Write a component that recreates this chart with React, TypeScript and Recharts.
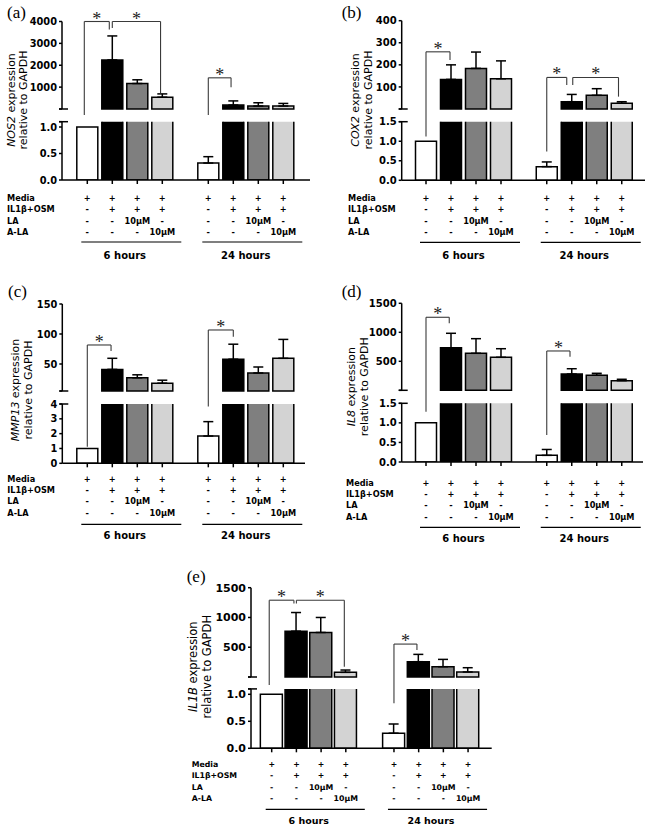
import React from 'react';
import { BarChart, Bar, XAxis, YAxis, Cell, ErrorBar, ReferenceLine, ReferenceDot } from 'recharts';

const SANS = 'DejaVu Sans';
const SERIF = 'Liberation Serif';

// treatment table under each bar (same for both time points)
const treatments = ['Media', 'IL1β+OSM', 'LA', 'A-LA'];
const mediaRow = ['+', '+', '+', '+'];
const il1bOsmRow = ['-', '+', '+', '+'];
const laRow = ['-', '-', '10μM', '-'];
const alaRow = ['-', '-', '-', '10μM'];
const timeGroups = ['6 hours', '24 hours'];

const barFills = ['#ffffff', '#000000', '#7f7f7f', '#d3d3d3'];

// mean and SD: 4 bars at 6 h, then 4 bars at 24 h (0 = no error bar)
const nos2Mean = [1, 2245, 1165, 540, 0.32, 180, 135, 135];
const nos2Sd = [0, 1095, 170, 150, 0.12, 190, 150, 120];
const cox2Mean = [1, 134, 184, 137, 0.35, 33, 62, 26];
const cox2Sd = [0, 66, 74, 81, 0.12, 33, 30, 7];
const mmp13Mean = [1, 41, 27, 18, 1.84, 58, 35, 59.5];
const mmp13Sd = [0, 18.5, 5, 5, 0.97, 25, 10, 31.5];
const il8Mean = [1, 734, 638, 569, 0.17, 281, 259, 166];
const il8Sd = [0, 249, 252, 148, 0.15, 91, 34, 24];
const il1bMean = [1, 770, 748, 78, 0.28, 257, 173, 84];
const il1bSd = [0, 313, 252, 39, 0.17, 123, 123, 72];

// broken y axes: upper and lower segments
const nos2UpperTicks = [0, 1000, 2000, 3000, 4000];
const nos2LowerTicks = [0, 0.5, 1.0, 1.1];
const cox2UpperTicks = [0, 100, 200, 300, 400];
const cox2LowerTicks = [0, 0.5, 1.0, 1.5];
const mmp13UpperTicks = [5, 50, 100, 150];
const mmp13LowerTicks = [0, 1, 2, 3, 4];
const il8UpperTicks = [0, 500, 1000, 1500];
const il8LowerTicks = [0, 0.5, 1.0, 1.5];
const il1bUpperTicks = [0, 500, 1000, 1500];
const il1bLowerTicks = [0, 0.5, 1.0, 1.1];

// significance brackets (bar a -> bar b), heights in upper-axis units
type Bracket = { a: number; b: number; top: number; aEnd: number; bEnd: number; aOff?: number; bOff?: number };
const nos2Brackets: Bracket[] = [
  { a: 0, b: 1, top: 4000, aEnd: -270, bEnd: 3640, aOff: -0.12, bOff: -0.12 },
  { a: 1, b: 3, top: 4000, aEnd: 3700, bEnd: 720, bOff: -0.07 },
  { a: 4, b: 5, top: 1425, aEnd: -270, bEnd: 990, bOff: -0.09 },
];
const cox2Brackets: Bracket[] = [
  { a: 0, b: 1, top: 259, aEnd: -125, bEnd: 222, bOff: -0.04 },
  { a: 4, b: 5, top: 143, aEnd: -193, bEnd: 109, bOff: -0.2 },
  { a: 5, b: 7, top: 143, aEnd: 109, bEnd: 56, aOff: 0.04, bOff: -0.13 },
];
const mmp13Brackets: Bracket[] = [
  { a: 0, b: 1, top: 81.7, aEnd: -88, bEnd: 71.7, bOff: -0.05 },
  { a: 4, b: 5, top: 106.7, aEnd: -21, bEnd: 95.5 },
];
const il8Brackets: Bracket[] = [
  { a: 0, b: 1, top: 1259, aEnd: -369, bEnd: 1155, bOff: -0.07 },
  { a: 4, b: 5, top: 678, aEnd: -771, bEnd: 579, bOff: -0.07 },
];
const il1bBrackets: Bracket[] = [
  { a: 0, b: 1, top: 1290, aEnd: -134, bEnd: 1234, aOff: -0.1, bOff: -0.1 },
  { a: 1, b: 3, top: 1290, aEnd: 1234, bEnd: 173, bOff: -0.06 },
  { a: 4, b: 5, top: 553, aEnd: -440, bEnd: 452, bOff: -0.07 },
];

type Panel = {
  letter: string; gene: string; mean: number[]; sd: number[]; brackets: Bracket[];
  upperTicks: number[]; lowerTicks: number[]; lowerTopLabel: boolean; dec: number;
  px0: number; py0: number; W: number; H: number;
  uTop: number; uBot: number; lTop: number; lBot: number;
  axisX: number; axisEnd: number; first: number; s: number; stride: number; barW: number;
  rowX: number; rowStart: number; pitch: number; lineY: number; groupY: number;
  yl: number[]; ylY: number; letterX: number; letterY: number;
  tickFont: number; tableFont: number; groupFont: number; ylFont: number;
};

const panels: Panel[] = [
  {
    letter: '(a)', gene: 'NOS2', mean: nos2Mean, sd: nos2Sd, brackets: nos2Brackets,
    upperTicks: nos2UpperTicks, lowerTicks: nos2LowerTicks, lowerTopLabel: false, dec: 1,
    px0: 0, py0: 0, W: 320, H: 268, uTop: 21.5, uBot: 109, lTop: 121.7, lBot: 180,
    axisX: 62, axisEnd: 310, first: 87.3, s: 25, stride: 4.84, barW: 21,
    rowX: 7, rowStart: 18, pitch: 11.3, lineY: 62, groupY: 75,
    yl: [11, 23], ylY: 100, letterX: 7, letterY: 18,
    tickFont: 9.8, tableFont: 8.2, groupFont: 10, ylFont: 11,
  },
  {
    letter: '(b)', gene: 'COX2', mean: cox2Mean, sd: cox2Sd, brackets: cox2Brackets,
    upperTicks: cox2UpperTicks, lowerTicks: cox2LowerTicks, lowerTopLabel: true, dec: 1,
    px0: 320, py0: 0, W: 327, H: 268, uTop: 20.7, uBot: 109, lTop: 121.7, lBot: 180.3,
    axisX: 401.7, axisEnd: 645, first: 426, s: 25, stride: 4.83, barW: 21,
    rowX: 348, rowStart: 17.4, pitch: 11.6, lineY: 62, groupY: 75,
    yl: [355, 368], ylY: 100, letterX: 341.7, letterY: 18,
    tickFont: 10, tableFont: 8.2, groupFont: 10, ylFont: 11,
  },
  {
    letter: '(c)', gene: 'MMP13', mean: mmp13Mean, sd: mmp13Sd, brackets: mmp13Brackets,
    upperTicks: mmp13UpperTicks, lowerTicks: mmp13LowerTicks, lowerTopLabel: true, dec: 0,
    px0: 0, py0: 280, W: 320, H: 265, uTop: 304, uBot: 391, lTop: 404, lBot: 463.3,
    axisX: 62.3, axisEnd: 305, first: 87.3, s: 25, stride: 4.84, barW: 21,
    rowX: 7.3, rowStart: 15.7, pitch: 11.2, lineY: 61, groupY: 72.4,
    yl: [14.7, 28], ylY: 390, letterX: 8, letterY: 297,
    tickFont: 9.8, tableFont: 8.2, groupFont: 10, ylFont: 11,
  },
  {
    letter: '(d)', gene: 'IL8', mean: il8Mean, sd: il8Sd, brackets: il8Brackets,
    upperTicks: il8UpperTicks, lowerTicks: il8LowerTicks, lowerTopLabel: true, dec: 1,
    px0: 320, py0: 280, W: 327, H: 265, uTop: 303.3, uBot: 390.3, lTop: 403.3, lBot: 462,
    axisX: 401.7, axisEnd: 643, first: 426, s: 25, stride: 4.83, barW: 21,
    rowX: 346, rowStart: 20.7, pitch: 11.3, lineY: 65.3, groupY: 76.3,
    yl: [350.7, 364.3], ylY: 386.7, letterX: 341.7, letterY: 297,
    tickFont: 10, tableFont: 8.2, groupFont: 10, ylFont: 11,
  },
  {
    letter: '(e)', gene: 'IL1B', mean: il1bMean, sd: il1bSd, brackets: il1bBrackets,
    upperTicks: il1bUpperTicks, lowerTicks: il1bLowerTicks, lowerTopLabel: false, dec: 1,
    px0: 170, py0: 565, W: 330, H: 263, uTop: 587.7, uBot: 677, lTop: 688.9, lBot: 748.3,
    axisX: 251, axisEnd: 491.7, first: 271.7, s: 24.7, stride: 4.95, barW: 22,
    rowX: 191.7, rowStart: 15.7, pitch: 11.4, lineY: 61, groupY: 72.4,
    yl: [193, 206.7], ylY: 666.7, letterX: 186.7, letterY: 582,
    tickFont: 11, tableFont: 7.8, groupFont: 9.5, ylFont: 11.5,
  },
];

const YAXIS_W = 40;

function makeYTick(ax: number, breakVal: number, fmt: (v: number) => string, fs: number) {
  return (props: any) => {
    const { x, y, payload } = props;
    const v = payload.value as number;
    const label = fmt(v);
    return (
      <g>
        {label !== '' && (
          <text x={x} y={y} dy="0.36em" textAnchor="end" fontFamily={SANS} fontWeight={700} fontSize={fs} fill="#000" stroke="none">
            {label}
          </text>
        )}
        {Math.abs(v - breakVal) < 1e-9 && (
          <line x1={ax - 3} x2={ax + 6} y1={y} y2={y} stroke="#000" strokeWidth={1.5} />
        )}
      </g>
    );
  };
}

function makeXTick(p: Panel, positions: number[], axY: number) {
  const rows = [mediaRow, il1bOsmRow, laRow, alaRow];
  const txt = { fontFamily: SANS, fontWeight: 700, fill: '#000', stroke: 'none' };
  return (props: any) => {
    const { x, payload } = props;
    const k = positions.findIndex((q) => Math.abs(q - payload.value) < 1e-6);
    if (k < 0) return <g />;
    const i = k % 4;
    const g = Math.floor(k / 4);
    return (
      <g>
        {rows.map((row, r) => (
          <text key={r} x={x} y={axY + p.rowStart + r * p.pitch} dy="0.36em" textAnchor="middle" fontSize={p.tableFont} {...txt}>
            {row[i]}
          </text>
        ))}
        {k === 0 &&
          treatments.map((t, r) => (
            <text key={'t' + r} x={p.rowX - p.px0} y={axY + p.rowStart + r * p.pitch} dy="0.36em" textAnchor="start" fontSize={p.tableFont} {...txt}>
              {t}
            </text>
          ))}
        {i === 0 && (
          <line x1={x - 6} x2={x + 3 * p.s + 19} y1={axY + p.lineY} y2={axY + p.lineY} stroke="#000" strokeWidth={1.2} />
        )}
        {i === 0 && (
          <text x={x + 1.5 * p.s} y={axY + p.groupY} dy="0.36em" textAnchor="middle" fontSize={p.groupFont} {...txt}>
            {timeGroups[g]}
          </text>
        )}
      </g>
    );
  };
}

const starShape = (props: any) => (
  <text x={props.cx} y={props.cy + 3} textAnchor="middle" fontFamily={SERIF} fontSize={18} fill="#222" stroke="none">
    *
  </text>
);

function GenePanel({ p }: { p: Panel }) {
  const ax = p.axisX - p.px0;
  const marginLeft = ax - YAXIS_W;
  const marginRight = p.W - (p.axisEnd - p.px0);
  const xDomain = [-(p.first - p.axisX) / p.s, (p.axisEnd - p.first) / p.s];
  const positions = p.mean.map((_, k) => Math.floor(k / 4) * p.stride + (k % 4));
  const lowerMax = p.lowerTicks[p.lowerTicks.length - 1];
  const upperMin = p.upperTicks[0];
  const upperMax = p.upperTicks[p.upperTicks.length - 1];

  const upperData = p.mean.map((m, k) => ({
    pos: positions[k],
    v: m > lowerMax ? m : null,
    e: m > lowerMax && p.sd[k] ? [0, p.sd[k]] : null,
  }));
  const lowerData = p.mean.map((m, k) => ({
    pos: positions[k],
    v: m,
    e: m <= lowerMax && p.sd[k] ? [0, p.sd[k]] : null,
  }));

  const uTop = p.uTop - p.py0;
  const uBot = p.uBot - p.py0;
  const lTop = p.lTop - p.py0;
  const lBot = p.lBot - p.py0;

  const upperFmt = (v: number) => (v === upperMin ? '' : String(v));
  const lowerFmt = (v: number) => (v === lowerMax && !p.lowerTopLabel ? '' : v.toFixed(p.dec));

  const bracketEls: React.ReactNode[] = [];
  p.brackets.forEach((b, n) => {
    const xa = positions[b.a] + (b.aOff ?? 0);
    const xb = positions[b.b] + (b.bOff ?? 0);
    const line = { stroke: '#3a3a3a', strokeWidth: 1.1, ifOverflow: 'visible' as const };
    bracketEls.push(<ReferenceLine key={`bl${n}`} segment={[{ x: xa, y: b.aEnd }, { x: xa, y: b.top }]} {...line} />);
    bracketEls.push(<ReferenceLine key={`bt${n}`} segment={[{ x: xa, y: b.top }, { x: xb, y: b.top }]} {...line} />);
    bracketEls.push(<ReferenceLine key={`br${n}`} segment={[{ x: xb, y: b.top }, { x: xb, y: b.bEnd }]} {...line} />);
    bracketEls.push(
      <ReferenceDot key={`bs${n}`} x={(xa + xb) / 2} y={b.top} r={1} ifOverflow="visible" shape={starShape} />
    );
  });

  const axisStyle = { stroke: '#000', strokeWidth: 1.5 };

  return (
    <>
      <div style={{ position: 'absolute', left: p.px0, top: p.py0 }}>
        <BarChart
          width={p.W}
          height={p.H}
          data={lowerData}
          margin={{ top: lTop, bottom: 0, left: marginLeft, right: marginRight }}
        >
          <XAxis
            dataKey="pos"
            type="number"
            domain={xDomain}
            ticks={positions}
            interval={0}
            height={p.H - lBot}
            axisLine={axisStyle}
            tickLine={axisStyle}
            tickSize={4}
            tick={makeXTick(p, positions, lBot)}
          />
          <YAxis
            type="number"
            domain={[0, lowerMax]}
            allowDataOverflow
            ticks={p.lowerTicks}
            interval={0}
            width={YAXIS_W}
            axisLine={axisStyle}
            tickLine={axisStyle}
            tickSize={3}
            tickMargin={2}
            tick={makeYTick(ax, lowerMax, lowerFmt, p.tickFont)}
          />
          <Bar dataKey="v" barSize={p.barW} stroke="#000" strokeWidth={1.5} isAnimationActive={false}>
            {lowerData.map((_, k) => (
              <Cell key={k} fill={barFills[k % 4]} />
            ))}
            <ErrorBar dataKey="e" width={5} stroke="#000" strokeWidth={1.5} isAnimationActive={false} />
          </Bar>
        </BarChart>
      </div>
      <div style={{ position: 'absolute', left: p.px0, top: p.py0 }}>
        <BarChart
          width={p.W}
          height={p.H}
          data={upperData}
          margin={{ top: uTop, bottom: p.H - uBot, left: marginLeft, right: marginRight }}
        >
          <XAxis dataKey="pos" type="number" domain={xDomain} ticks={positions} hide />
          <YAxis
            type="number"
            domain={[upperMin, upperMax]}
            ticks={p.upperTicks}
            interval={0}
            width={YAXIS_W}
            axisLine={axisStyle}
            tickLine={axisStyle}
            tickSize={3}
            tickMargin={2}
            tick={makeYTick(ax, upperMin, upperFmt, p.tickFont)}
          />
          <Bar dataKey="v" barSize={p.barW} stroke="#000" strokeWidth={1.5} isAnimationActive={false}>
            {upperData.map((_, k) => (
              <Cell key={k} fill={barFills[k % 4]} />
            ))}
            <ErrorBar dataKey="e" width={5} stroke="#000" strokeWidth={1.5} isAnimationActive={false} />
          </Bar>
          {bracketEls}
        </BarChart>
      </div>
      <svg
        width={p.W}
        height={p.H}
        style={{ position: 'absolute', left: p.px0, top: p.py0, overflow: 'visible', pointerEvents: 'none' }}
      >
        <text x={p.letterX - p.px0} y={p.letterY - p.py0} fontFamily={SERIF} fontSize={17} fill="#000">
          {p.letter}
        </text>
        <text
          x={p.yl[0] - p.px0}
          y={p.ylY - p.py0}
          dy="0.35em"
          transform={`rotate(-90 ${p.yl[0] - p.px0} ${p.ylY - p.py0})`}
          textAnchor="middle"
          fontFamily={SANS}
          fontSize={p.ylFont}
          fill="#000"
        >
          <tspan fontStyle="italic">{p.gene}</tspan> expression
        </text>
        <text
          x={p.yl[1] - p.px0}
          y={p.ylY - p.py0}
          dy="0.35em"
          transform={`rotate(-90 ${p.yl[1] - p.px0} ${p.ylY - p.py0})`}
          textAnchor="middle"
          fontFamily={SANS}
          fontSize={p.ylFont}
          fill="#000"
        >
          relative to GAPDH
        </text>
      </svg>
    </>
  );
}

export default function App() {
  return (
    <div style={{ position: 'absolute', left: 0, top: 0, width: 647, height: 828, background: '#fff', overflow: 'hidden' }}>
      {panels.map((p) => (
        <GenePanel key={p.letter} p={p} />
      ))}
    </div>
  );
}
